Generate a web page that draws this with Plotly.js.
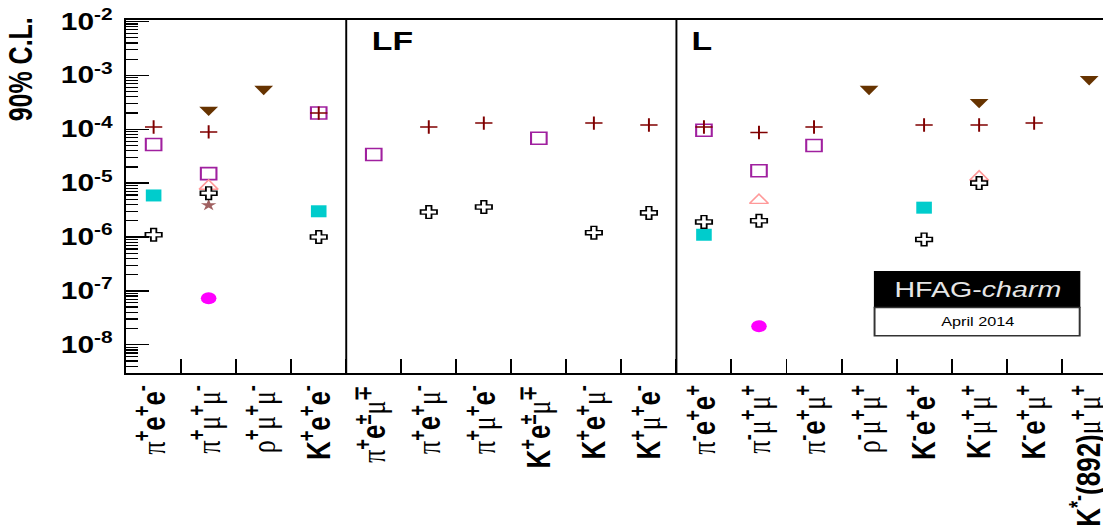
<!DOCTYPE html>
<html><head><meta charset="utf-8">
<script src="https://cdn.plot.ly/plotly-3.0.1.min.js"></script>
<style>
html,body{margin:0;padding:0;width:1103px;height:526px;overflow:hidden;background:#fff}
#plot{position:absolute;left:0;top:0;transform-origin:0 0;}
</style></head><body><div id="plot"></div>
<script>
// ---- data ----
const categories = ['π+e+e-','π+μ+μ-','ρ+μ+μ-','K+e+e-',
  'π+e±μ∓','π+e+μ-','π+μ+e-','K+e±μ∓','K+e+μ-','K+μ+e-',
  'π-e+e+','π-μ+μ+','π-e+μ+','ρ-μ+μ+','K-e+e+','K-μ+μ+','K-e+μ+','K*-(892)μ+μ+'];
const groupSizes = [4, 6, 8];
const groupLabels = ['', 'LF', 'L'];
const E687  = [1.1e-4, 8.9e-5, null, 2.0e-4, null, 1.1e-4, 1.3e-4, null, 1.3e-4, 1.2e-4, 1.1e-4, 8.7e-5, 1.1e-4, null, 1.2e-4, 1.2e-4, 1.3e-4, null];
const E791  = [5.2e-5, 1.5e-5, null, 2.0e-4, 3.4e-5, null, null, 6.8e-5, null, null, 9.6e-5, 1.7e-5, 5.0e-5, null, null, null, null, null];
const CLEO  = [5.9e-6, null, null, 3.0e-6, null, null, null, null, null, null, 1.1e-6, null, null, null, 3.5e-6, null, null, null];
const BaBar = [1.1e-6, 6.5e-6, null, 1.0e-6, null, 2.9e-6, 3.6e-6, null, 1.2e-6, 2.8e-6, 1.9e-6, 2.0e-6, null, null, 9.0e-7, 1.0e-5, null, null];
const E653  = [null, 2.3e-4, 5.6e-4, null, null, null, null, null, null, null, null, null, null, 5.6e-4, null, 3.2e-4, null, 8.5e-4];
const FOCUS = [null, 8.8e-6, null, null, null, null, null, null, null, null, null, 4.8e-6, null, null, null, 1.3e-5, null, null];
const D0    = [null, 3.9e-6, null, null, null, null, null, null, null, null, null, null, null, null, null, null, null, null];
const LHCb  = [null, 7.3e-8, null, null, null, null, null, null, null, null, null, 2.2e-8, null, null, null, null, null, null];
const yTickVals = [1e-8, 1e-7, 1e-6, 1e-5, 1e-4, 1e-3, 1e-2];
const yTickText = ['10^-8','10^-7','10^-6','10^-5','10^-4','10^-3','10^-2'];

// ---- formatting ----
function fmtLabel(s){
  let t = s.replace(/(\*?[+\-±∓])/g, '<sup><b>$1</b></sup>');
  t = t.replace(/(K|e|\(892\))/g, '<b>$1</b>');
  t = t.replace(/([πμρ])/g, '<span style="font-family:Liberation Serif">$1</span>');
  return t;
}
const catHTML = categories.map(fmtLabel);
const yTickHTML = yTickText.map(s => { const p = s.split('^'); return '<b>' + p[0] + '<sup>' + p[1] + '</sup></b>'; });
const minorVals = [];
for (let d = -9; d <= -2; d++) for (let m = 2; m <= 9; m++) minorVals.push(m * Math.pow(10, d));

// ---- geometry (reference image is horizontally stretched) ----
const S = 1.3;
const fL = 126, fR = 1116, fT = 20, fB = 373.3, H = 526;
const Wd = (fR + 24) / S;
document.getElementById('plot').style.transform = 'scaleX(' + S + ')';

function tr(name, y, marker){ return {type:'scatter', mode:'markers', name:name, x:catHTML, y:y, marker:marker, cliponaxis:false, hoverinfo:'skip'}; }
const traces = [
  tr('E791', E791, {symbol:'square-open', size:12, color:'#A0209F', line:{width:1.6}}),
  tr('CLEO', CLEO, {symbol:'square', size:12, color:'#00CCCC', line:{width:0}}),
  tr('FOCUS', FOCUS, {symbol:'triangle-up-open', size:12.5, color:'#FF9999', line:{width:1.4}}),
  tr('D0', D0, {symbol:'star', size:9, color:'#A06060', line:{width:0}}),
  tr('BaBar', BaBar, {symbol:'cross', size:10.5, color:'white', line:{color:'black', width:1.4}}),
  tr('E653', E653, {symbol:'triangle-down', size:12.5, color:'#663300', line:{width:0}}),
  tr('LHCb', LHCb, {symbol:'circle', size:12, color:'#FF00FF', line:{width:0}}),
  tr('E687', E687, {symbol:'cross-thin-open', size:9.5, color:'#800000', line:{width:1.5}})
];

// dividers between groups
const shapes = [];
let acc = 0;
groupSizes.forEach((n, i) => { if (i > 0) shapes.push({type:'line', xref:'x', yref:'paper', x0:acc-0.5, x1:acc-0.5, y0:0, y1:1, line:{color:'black', width:1.5}}); acc += n; });
const pw = fR - fL, ph = fB - fT;
const px = X => (X - fL) / pw, py = Y => 1 - (Y - fT) / ph;
// HFAG logo box
shapes.push({type:'rect', xref:'paper', yref:'paper', x0:px(874), x1:px(1079), y0:py(307.7), y1:py(271.7), fillcolor:'black', line:{color:'black', width:1}});
shapes.push({type:'rect', xref:'paper', yref:'paper', x0:px(874), x1:px(1079), y0:py(336), y1:py(307.7), fillcolor:'white', line:{color:'#333', width:1.5}});

const annotations = [
  {xref:'paper', yref:'paper', x:px(20), y:py(69), text:'<b>90% C.L.</b>', textangle:-90, showarrow:false, xanchor:'center', yanchor:'middle', font:{size:25, color:'black'}},
  {xref:'paper', yref:'paper', x:px(977), y:py(290), text:'HFAG-<i>charm</i>', showarrow:false, xanchor:'center', yanchor:'middle', font:{size:22, color:'#E6E6E6'}},
  {xref:'paper', yref:'paper', x:px(977), y:py(322), text:'April 2014', showarrow:false, xanchor:'center', yanchor:'middle', font:{size:12.5, color:'black'}}
];
// group labels
const gx = [369, 689];
let k = 0;
groupSizes.forEach((n, i) => { if (groupLabels[i]) { annotations.push({xref:'paper', yref:'paper', x:px(gx[k++]), y:py(24), text:'<b>' + groupLabels[i] + '</b>', showarrow:false, xanchor:'left', yanchor:'top', font:{size:26, color:'black'}}); } });

const layout = {
  width: Wd, height: H,
  margin: {l: fL / S, r: Wd - fR / S, t: fT, b: H - fB, pad: 0},
  paper_bgcolor:'white', plot_bgcolor:'white', showlegend:false,
  font:{family:'Liberation Sans, Arial, sans-serif', color:'black'},
  xaxis:{type:'category', categoryorder:'array', categoryarray:catHTML, range:[-0.5, 17.5],
    tickson:'boundaries', ticks:'inside', ticklen:14, tickwidth:1.5, tickcolor:'black',
    tickangle:-90, tickfont:{size:26, color:'black'}, ticklabelstandoff:0,
    showline:true, mirror:true, linecolor:'black', linewidth:1.7, showgrid:false, zeroline:false, fixedrange:true, automargin:false},
  yaxis:{type:'log', range:[-8.525, -1.972], tickmode:'array', tickvals:yTickVals, ticktext:yTickHTML,
    ticks:'inside', ticklen:23 / S, tickwidth:1.5, tickcolor:'black', tickfont:{size:23, color:'black'}, ticklabelstandoff:4,
    minor:{tickmode:'array', tickvals:minorVals, ticks:'inside', ticklen:12 / S, tickwidth:1.2, tickcolor:'black', showgrid:false},
    showline:true, mirror:true, linecolor:'black', linewidth:1.7, showgrid:false, zeroline:false, fixedrange:true, automargin:false},
  shapes: shapes, annotations: annotations
};
Plotly.newPlot('plot', traces, layout, {staticPlot:true, displayModeBar:false});
</script></body></html>
